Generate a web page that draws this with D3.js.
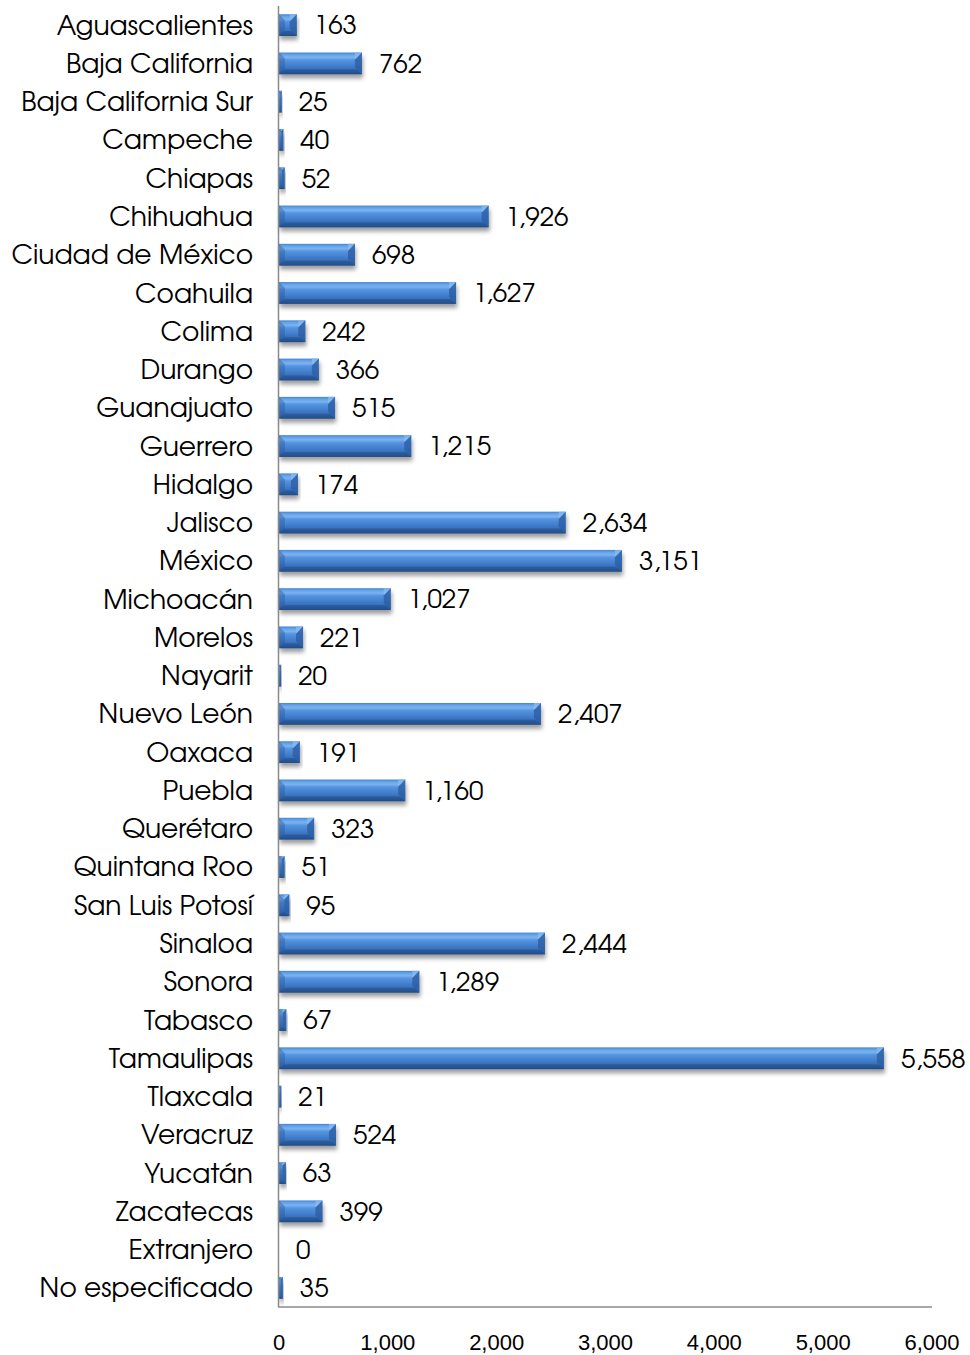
<!DOCTYPE html>
<html><head><meta charset="utf-8">
<script src="https://cdn.jsdelivr.net/npm/d3@7"></script>
<style>body{margin:0;background:#fff}</style>
</head><body>
<svg id="c" width="970" height="1355"></svg>
<script>
const categories = ["Aguascalientes","Baja California","Baja California Sur","Campeche","Chiapas","Chihuahua","Ciudad de México","Coahuila","Colima","Durango","Guanajuato","Guerrero","Hidalgo","Jalisco","México","Michoacán","Morelos","Nayarit","Nuevo León","Oaxaca","Puebla","Querétaro","Quintana Roo","San Luis Potosí","Sinaloa","Sonora","Tabasco","Tamaulipas","Tlaxcala","Veracruz","Yucatán","Zacatecas","Extranjero","No especificado"];
const values = [163,762,25,40,52,1926,698,1627,242,366,515,1215,174,2634,3151,1027,221,20,2407,191,1160,323,51,95,2444,1289,67,5558,21,524,63,399,0,35];
const ticks = [0,1000,2000,3000,4000,5000,6000];

const svg = d3.select("#c");
const L = 279, R = 932, T = 6, B = 1307;
const x = d3.scaleLinear().domain([0,6000]).range([L,R]);
const y = d3.scaleBand().domain(categories).range([T,B]).paddingInner(0.43).paddingOuter(0.215);

const defs = svg.append("defs");
const g = defs.append("linearGradient").attr("id","bar").attr("x1",0).attr("y1",0).attr("x2",0).attr("y2",1);
[[0,"#4585d4"],[0.1,"#64a3e8"],[0.22,"#7ab3f0"],[0.35,"#5593df"],[0.6,"#427fcd"],[0.82,"#356bb4"],[1,"#26538f"]].forEach(s=>g.append("stop").attr("offset",s[0]).attr("stop-color",s[1]));
const f = defs.append("filter").attr("id","sh").attr("x","-5%").attr("y","-30%").attr("width","120%").attr("height","190%");
f.append("feDropShadow").attr("dx",1).attr("dy",4).attr("stdDeviation",2.2).attr("flood-color","#000").attr("flood-opacity",0.38);

const bh = y.bandwidth();
const data = categories.map((c,i)=>({c,v:values[i]}));
const bars = svg.append("g").selectAll("g").data(data.filter(d=>d.v>0)).join("g").attr("filter","url(#sh)");
bars.append("rect").attr("x",L).attr("y",d=>y(d.c)).attr("width",d=>x(d.v)-L).attr("height",bh).attr("fill","url(#bar)");
bars.append("path").attr("d",d=>{
  const w=x(d.v)-L, y0=y(d.c), b=Math.min(6,w/2);
  return `M${L},${y0}L${L+b},${y0+b}L${L+b},${y0+bh-b}L${L},${y0+bh}Z`;
}).attr("fill","#27589c").attr("opacity",0.4);
bars.append("path").attr("d",d=>{
  const w=x(d.v)-L, xe=x(d.v), y0=y(d.c), b=Math.min(5,w/2);
  return `M${L},${y0+bh}L${L+b},${y0+bh-b}L${xe-b},${y0+bh-b}L${xe},${y0+bh}Z`;
}).attr("fill","#1d4478").attr("opacity",0.4);
bars.append("path").attr("d",d=>{
  const w=x(d.v)-L, xe=x(d.v), y0=y(d.c), b=Math.min(7,w/2);
  return `M${xe},${y0}L${xe-b},${y0+b}L${xe-b},${y0+bh-b}L${xe},${y0+bh}Z`;
}).attr("fill","#2d60a6").attr("opacity",0.85);
bars.append("path").attr("d",d=>{
  const w=x(d.v)-L, xe=x(d.v), y0=y(d.c), b=Math.min(7,w/2);
  return `M${xe},${y0}L${xe-b},${y0+b}L${xe-b},${y0}Z`;
}).attr("fill","#8dbdf2").attr("opacity",0.7);

svg.append("line").attr("x1",L-0.5).attr("x2",L-0.5).attr("y1",T).attr("y2",B).attr("stroke","#8a8a8a").attr("stroke-width",1.5);
svg.append("line").attr("x1",L-1).attr("x2",R).attr("y1",B).attr("y2",B).attr("stroke","#8a8a8a").attr("stroke-width",1.5);

const fmt = d3.format(",");
svg.append("g").selectAll("text").data(ticks).join("text")
  .attr("x",d=>x(d)).attr("y",1350).attr("text-anchor","middle")
  .style("font-family","'Liberation Sans',Arial,sans-serif").style("font-size","22px").attr("fill","#000")
  .text(d=>fmt(d));

const lf = "'Century Gothic','URW Gothic','TeX Gyre Adventor',Lato,'DejaVu Sans',sans-serif";
svg.append("g").selectAll("text").data(categories).join("text")
  .attr("x",253).attr("y",d=>y(d)+bh/2).attr("dy","0.36em").attr("text-anchor","end")
  .style("font-family",lf).style("font-size","26.5px").attr("fill","#000").text(d=>d);

svg.append("g").selectAll("text").data(data).join("text")
  .attr("x",d=>x(d.v)+17).attr("y",d=>y(d.c)+bh/2).attr("dy","0.36em")
  .style("font-family",lf).style("font-size","26px").attr("fill","#000").text(d=>fmt(d.v));
</script>
</body></html>
